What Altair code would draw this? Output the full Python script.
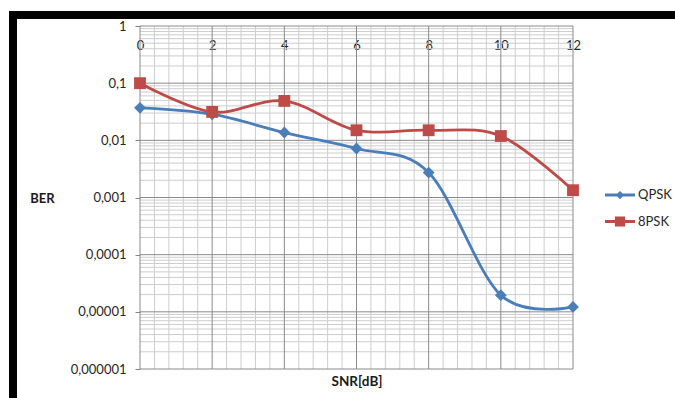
import altair as alt
import pandas as pd

# Measured bit error rates per SNR step
snr_db = [0, 2, 4, 6, 8, 10, 12]
ber_qpsk = [0.037, 0.0286, 0.0137, 0.0072, 0.00273, 0.0000196, 0.0000122]
ber_8psk = [0.1, 0.0314, 0.0489, 0.015, 0.015, 0.0119, 0.00134]
series_names = ["QPSK", "8PSK"]
series_colors = ["#4A7EBB", "#BE4B48"]

# Axis ticks
x_major = [0, 2, 4, 6, 8, 10, 12]
y_major = [1, 0.1, 0.01, 0.001, 0.0001, 0.00001, 0.000001]

x_minor = [round(a + b, 1) for a in x_major[:-1] for b in (0.4, 0.8, 1.2, 1.6)]
y_minor = [k * 10.0 ** e for e in range(-6, 0) for k in range(2, 10)]

FONT = "Lato"
W, H = 433, 343

df = pd.DataFrame(
    {
        "snr": snr_db * 2,
        "ber": ber_qpsk + ber_8psk,
        "series": ["QPSK"] * len(snr_db) + ["8PSK"] * len(snr_db),
    }
)

x_scale = alt.Scale(domain=[0, 12], nice=False, zero=False)
y_scale = alt.Scale(type="log", domain=[1e-6, 1], nice=False)
color_scale = alt.Scale(domain=series_names, range=series_colors)

x_axis = alt.Axis(
    orient="top",
    values=x_major,
    grid=False,
    ticks=False,
    tickSize=0,
    domain=False,
    labelFlush=False,
    labelPadding=-19,
    labelBaseline="middle",
    labelFont=FONT,
    labelFontSize=13,
    labelColor="#262626",
    title="SNR[dB]",
    titleFont=FONT,
    titleFontSize=13.5,
    titleFontWeight="bold",
    titleColor="#1a1a1a",
    titleY=355,
    titleBaseline="middle",
)
y_axis = alt.Axis(
    values=y_major,
    grid=False,
    domain=False,
    ticks=True,
    tickSize=5,
    tickColor="#868686",
    labelPadding=9,
    labelFont=FONT,
    labelFontSize=13,
    labelColor="#262626",
    labelExpr="replace(format(datum.value, '.6~f'), '.', ',')",
    title="BER",
    titleFont=FONT,
    titleFontSize=13,
    titleFontWeight="bold",
    titleColor="#1a1a1a",
    titleAngle=0,
    titleX=-98,
    titleY=172,
    titleAlign="center",
    titleBaseline="middle",
)

# Gridlines: light minor lines under darker major lines
xminor_rules = alt.Chart(pd.DataFrame({"v": x_minor})).mark_rule(
    color="#cdcdcd", strokeWidth=1
).encode(x=alt.X("v:Q", scale=x_scale, axis=x_axis))
yminor_rules = alt.Chart(pd.DataFrame({"v": y_minor})).mark_rule(
    color="#cdcdcd", strokeWidth=1
).encode(y=alt.Y("v:Q", scale=y_scale, axis=y_axis))
xmajor_rules = alt.Chart(pd.DataFrame({"v": x_major})).mark_rule(
    color="#8a8a8a", strokeWidth=1
).encode(x=alt.X("v:Q", scale=x_scale))
ymajor_rules = alt.Chart(pd.DataFrame({"v": y_major})).mark_rule(
    color="#8a8a8a", strokeWidth=1
).encode(y=alt.Y("v:Q", scale=y_scale))

base = alt.Chart(df).encode(
    x=alt.X("snr:Q", scale=x_scale),
    y=alt.Y("ber:Q", scale=y_scale),
)


def series_layers(name, color, shape, size):
    sub = base.transform_filter(alt.datum.series == name)
    line = sub.mark_line(interpolate="cardinal", strokeWidth=2.8, color=color)
    pts = sub.mark_point(
        shape=shape, size=size, filled=True, opacity=1, strokeWidth=0, color=color
    )
    return [line, pts]


# Legend entries: line with a marker through it
legend_paths = [
    "M-2,-0.2H2V0.2H-2Z M0,-0.55L0.55,0L0,0.55L-0.55,0Z",
    "M-2,-0.2H2V0.2H-2Z M-0.68,-0.68H0.68V0.68H-0.68Z",
]
legend_props = dict(
    title=None,
    orient="none",
    legendX=472.5,
    legendY=161.5,
    padding=0,
    symbolSize=225,
    symbolStrokeWidth=0,
    symbolOpacity=1,
    labelOffset=10.5,
    rowPadding=11.5,
    labelFont=FONT,
    labelFontSize=13,
    labelColor="#262626",
)
legend_layer = (
    alt.Chart(df)
    .transform_filter("false")
    .mark_point(filled=True, size=225, strokeWidth=0)
    .encode(
        color=alt.Color("series:N", scale=color_scale, legend=alt.Legend(**legend_props)),
        shape=alt.Shape(
            "series:N",
            scale=alt.Scale(domain=series_names, range=legend_paths),
            legend=alt.Legend(**legend_props),
        ),
    )
)

# Heavy dark frame along the top and left edges
frame_top = alt.Chart(df).mark_rule(color="#000000", strokeWidth=8).encode(
    x=alt.value(-131), x2=alt.value(W + 110), y=alt.value(-11)
)
frame_left = alt.Chart(df).mark_rule(color="#000000", strokeWidth=8).encode(
    x=alt.value(-127), y=alt.value(-15), y2=alt.value(H + 40)
)

layers = (
    [xminor_rules, yminor_rules, xmajor_rules, ymajor_rules]
    + series_layers("QPSK", series_colors[0], "diamond", 140)
    + series_layers("8PSK", series_colors[1], "square", 140)
    + [legend_layer, frame_top, frame_left]
)

chart = (
    alt.layer(*layers)
    .properties(
        width=W,
        height=H,
        padding={"left": 140, "top": 26, "right": 102, "bottom": 29},
        autosize=alt.AutoSizeParams(type="none"),
        background="white",
    )
    .configure_view(stroke=None)
)

chart.save("out.html", embed_options={"renderer": "svg", "actions": False})
